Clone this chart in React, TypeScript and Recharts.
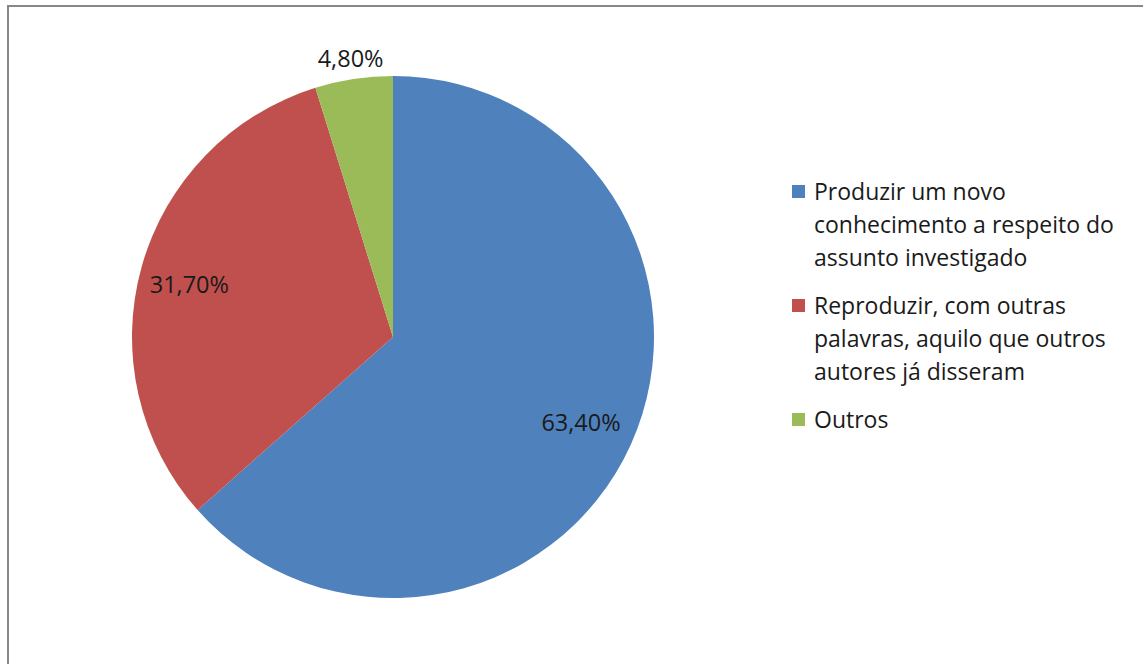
import React from "react";
import { PieChart, Pie, Cell, Legend } from "recharts";

const categories = [
  "Produzir um novo conhecimento a respeito do assunto investigado",
  "Reproduzir, com outras palavras, aquilo que outros autores já disseram",
  "Outros",
];
const values = [63.4, 31.7, 4.8];
const valueLabels = ["63,40%", "31,70%", "4,80%"];

const COLORS = ["#4F81BD", "#C0504D", "#9BBB59"];
const LABEL_RADIUS = [0.79, 0.81, 1.08];
const LABEL_DY = [0, 4, 0];
const FONT = "'Open Sans', 'Liberation Sans', sans-serif";

const data = categories.map((name, i) => ({ name, value: values[i], label: valueLabels[i] }));

const RADIAN = Math.PI / 180;

const renderLabel = (props: any) => {
  const { cx, cy, midAngle, outerRadius, index } = props;
  const r = outerRadius * LABEL_RADIUS[index];
  const x = cx + r * Math.cos(-midAngle * RADIAN);
  const y = cy + r * Math.sin(-midAngle * RADIAN) + LABEL_DY[index];
  return (
    <text
      x={x}
      y={y}
      fill="#1a1a1a"
      textAnchor="middle"
      dominantBaseline="central"
      fontSize={23.5}
      fontFamily={FONT}
    >
      {data[index].label}
    </text>
  );
};

const renderLegend = () => (
  <div style={{ fontFamily: FONT, fontSize: 23, color: "#1a1a1a", lineHeight: "33px" }}>
    {data.map((d, i) => (
      <div key={d.name} style={{ display: "flex", alignItems: "flex-start", marginBottom: 15 }}>
        <div
          style={{
            width: 13,
            height: 13,
            background: COLORS[i],
            marginTop: 10,
            marginRight: 9,
            flexShrink: 0,
          }}
        />
        <div style={{ width: 318 }}>{d.name}</div>
      </div>
    ))}
  </div>
);

export default function App() {
  return (
    <div style={{ position: "absolute", left: 0, top: 0, width: 1143, height: 664, background: "#fff", overflow: "hidden" }}>
      <div
        style={{
          position: "absolute",
          left: 7,
          top: 5,
          width: 1200,
          height: 700,
          border: "2px solid #878787",
          boxSizing: "border-box",
        }}
      />
      <div style={{ position: "absolute", left: 0, top: 0 }}>
        <PieChart width={1143} height={664} margin={{ top: 0, right: 0, bottom: 0, left: 0 }}>
          <Pie
            data={data}
            dataKey="value"
            nameKey="name"
            cx={393}
            cy={337}
            outerRadius={261}
            startAngle={90}
            endAngle={-270}
            stroke="none"
            label={renderLabel}
            labelLine={false}
            isAnimationActive={false}
          >
            {data.map((d, i) => (
              <Cell key={d.name} fill={COLORS[i]} />
            ))}
          </Pie>
          <Legend
            content={renderLegend}
            layout="vertical"
            wrapperStyle={{ position: "absolute", left: 792, top: 175, width: 345 }}
          />
        </PieChart>
      </div>
    </div>
  );
}
